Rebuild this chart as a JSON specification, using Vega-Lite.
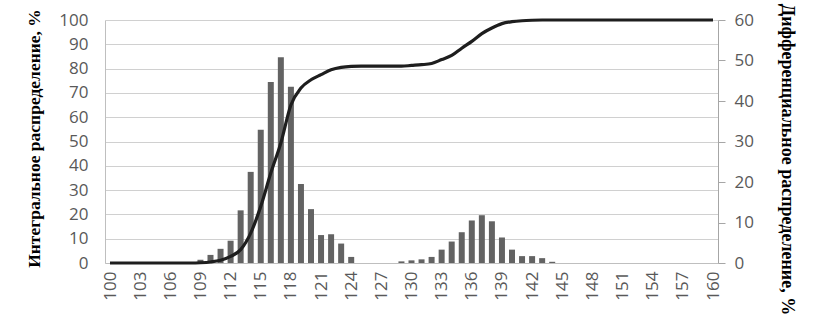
{
  "$schema": "https://vega.github.io/schema/vega-lite/v6.json",
  "autosize": {"type": "none"},
  "width": 613,
  "height": 243,
  "padding": {"left": 105, "top": 20, "right": 98, "bottom": 54},
  "background": "white",
  "config": {"view": {"stroke": null}},
  "data": {"values": [
    {"x":100,"diff":0,"cum":0},{"x":101,"diff":0,"cum":0},{"x":102,"diff":0,"cum":0},{"x":103,"diff":0,"cum":0},
    {"x":104,"diff":0,"cum":0},{"x":105,"diff":0,"cum":0},{"x":106,"diff":0,"cum":0},{"x":107,"diff":0,"cum":0},
    {"x":108,"diff":0,"cum":0},{"x":109,"diff":0.8,"cum":0.1},{"x":110,"diff":2.0,"cum":0.4},{"x":111,"diff":3.5,"cum":1.1},
    {"x":112,"diff":5.5,"cum":2.7},{"x":113,"diff":13.0,"cum":5.5},{"x":114,"diff":22.5,"cum":12.3},{"x":115,"diff":32.9,"cum":23.3},
    {"x":116,"diff":44.7,"cum":37.0},{"x":117,"diff":50.8,"cum":49.4},{"x":118,"diff":43.5,"cum":65.0},{"x":119,"diff":19.5,"cum":72.0},
    {"x":120,"diff":13.3,"cum":75.4},{"x":121,"diff":6.9,"cum":77.5},{"x":122,"diff":7.1,"cum":79.5},{"x":123,"diff":4.8,"cum":80.5},
    {"x":124,"diff":1.5,"cum":80.9},{"x":125,"diff":0,"cum":81.0},{"x":126,"diff":0,"cum":81.0},{"x":127,"diff":0,"cum":81.0},
    {"x":128,"diff":0,"cum":81.0},{"x":129,"diff":0.4,"cum":81.0},{"x":130,"diff":0.65,"cum":81.3},{"x":131,"diff":0.9,"cum":81.6},
    {"x":132,"diff":1.5,"cum":82.1},{"x":133,"diff":3.3,"cum":83.7},{"x":134,"diff":5.3,"cum":85.4},{"x":135,"diff":7.6,"cum":88.4},
    {"x":136,"diff":10.5,"cum":91.2},{"x":137,"diff":11.8,"cum":94.4},{"x":138,"diff":10.3,"cum":96.7},{"x":139,"diff":6.3,"cum":98.5},
    {"x":140,"diff":3.3,"cum":99.3},{"x":141,"diff":1.7,"cum":99.7},{"x":142,"diff":1.7,"cum":99.9},{"x":143,"diff":1.2,"cum":100},
    {"x":144,"diff":0.3,"cum":100},{"x":145,"diff":0,"cum":100},{"x":146,"diff":0,"cum":100},{"x":147,"diff":0,"cum":100},
    {"x":148,"diff":0,"cum":100},{"x":149,"diff":0,"cum":100},{"x":150,"diff":0,"cum":100},{"x":151,"diff":0,"cum":100},
    {"x":152,"diff":0,"cum":100},{"x":153,"diff":0,"cum":100},{"x":154,"diff":0,"cum":100},{"x":155,"diff":0,"cum":100},
    {"x":156,"diff":0,"cum":100},{"x":157,"diff":0,"cum":100},{"x":158,"diff":0,"cum":100},{"x":159,"diff":0,"cum":100},
    {"x":160,"diff":0,"cum":100}
  ]},
  "encoding": {
    "x": {
      "field": "x", "type": "quantitative",
      "scale": {"domain": [100, 160], "nice": false, "zero": false},
      "axis": {
        "values": [100,103,106,109,112,115,118,121,124,127,130,133,136,139,142,145,148,151,154,157,160],
        "title": null, "grid": false, "labelAngle": -90, "labelFont": "Open Sans", "labelFontSize": 17,
        "labelColor": "#595959", "domainColor": "#bfbfbf", "ticks": false, "labelPadding": 8, "labelFlush": false
      }
    }
  },
  "layer": [
    {
      "mark": {"type": "bar", "size": 6, "color": "#636363"},
      "encoding": {
        "y": {
          "field": "diff", "type": "quantitative",
          "scale": {"domain": [0, 60], "nice": false},
          "axis": {
            "orient": "right", "values": [0,10,20,30,40,50,60], "grid": false,
            "title": "Дифференциальное распределение, %", "titleFont": "Liberation Serif", "titleFontWeight": "bold",
            "titleFontSize": 18, "titleColor": "black", "titleAngle": 90, "titlePadding": 24, "titleY": 139, "titleAlign": "center",
            "labelFont": "Open Sans", "labelFontSize": 17, "labelColor": "#595959",
            "domainColor": "#a6a6a6", "tickColor": "#a6a6a6", "tickSize": 7, "labelPadding": 9
          }
        }
      }
    },
    {
      "mark": {"type": "line", "color": "#1e1e1e", "strokeWidth": 3.2, "interpolate": "monotone"},
      "encoding": {
        "y": {
          "field": "cum", "type": "quantitative",
          "scale": {"domain": [0, 100], "nice": false},
          "axis": {
            "orient": "left", "values": [0,10,20,30,40,50,60,70,80,90,100], "grid": true, "gridColor": "#d0d0d0",
            "title": "Интегральное распределение, %", "titleFont": "Liberation Serif", "titleFontWeight": "bold",
            "titleFontSize": 17.5, "titleColor": "black", "titlePadding": 15, "titleY": 118, "titleAlign": "center",
            "labelFont": "Open Sans", "labelFontSize": 17, "labelColor": "#595959",
            "domainColor": "#bfbfbf", "ticks": false, "labelPadding": 17
          }
        }
      }
    }
  ],
  "resolve": {"scale": {"y": "independent"}}
}
